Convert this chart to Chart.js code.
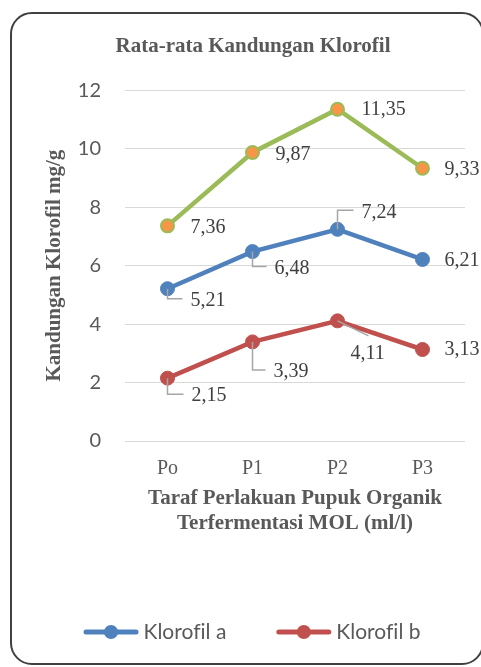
<!DOCTYPE html>
<html>
<head>
<meta charset="utf-8">
<script src="https://cdn.jsdelivr.net/npm/chart.js@4.4.0/dist/chart.umd.min.js"></script>
<style>
    body { margin: 0; background: #fff; }
    #wadah { position: relative; width: 481px; height: 667px; overflow: hidden; }
    #bingkai {
        position: absolute; left: 10px; top: 12px; width: 474px; height: 653px;
        box-sizing: border-box; border: 2.5px solid #404040; border-radius: 22px;
        pointer-events: none;
    }
</style>
</head>
<body>
<div id="wadah">
    <canvas id="grafik-klorofil" width="481" height="667"></canvas>
    <div id="bingkai"></div>
</div>
<script>
const perlakuan = ["Po", "P1", "P2", "P3"];
const klorofilA = [5.21, 6.48, 7.24, 6.21];
const klorofilB = [2.15, 3.39, 4.11, 3.13];
const klorofilTotal = [7.36, 9.87, 11.35, 9.33];
const tickY = [0, 2, 4, 6, 8, 10, 12];

const SERIF = "Liberation Serif";
const SANS = "Lato";
const ABU = "#595959";

// posisi label data relatif terhadap titik (per seri, per titik)
const posisiLabel = [
    [
        { dx: 23, dy: 12, garis: "siku" },
        { dx: 22, dy: 17, garis: "siku" },
        { dx: 24, dy: -17, garis: "siku" },
        { dx: 22, dy: 1 },
    ],
    [
        { dx: 24, dy: 18, garis: "siku" },
        { dx: 21, dy: 30, garis: "siku" },
        { dx: 13, dy: 33, garis: "miring", lx: 31, ly: 15 },
        { dx: 22, dy: 0 },
    ],
    [
        { dx: 23, dy: 2 },
        { dx: 23, dy: 2 },
        { dx: 24, dy: 1 },
        { dx: 22, dy: 1 },
    ],
];

const formatAngka = (nilai) => nilai.toFixed(2).replace(".", ",");

const pluginLabelData = {
    id: "labelData",
    afterDatasetsDraw(chart) {
        const ctx = chart.ctx;
        ctx.save();
        chart.data.datasets.forEach((dataset, i) => {
            const meta = chart.getDatasetMeta(i);
            meta.data.forEach((titik, j) => {
                const pos = posisiLabel[i][j];
                const x = titik.x;
                const y = titik.y;

                ctx.strokeStyle = "#A6A6A6";
                ctx.lineWidth = 1.5;
                if (pos.garis === "siku") {
                    const yy = y + pos.dy - 2;
                    ctx.beginPath();
                    ctx.moveTo(x, y);
                    ctx.lineTo(x, yy);
                    ctx.lineTo(x + pos.dx - 8, yy);
                    ctx.stroke();
                } else if (pos.garis === "miring") {
                    ctx.beginPath();
                    ctx.moveTo(x, y);
                    ctx.lineTo(x + pos.lx, y + pos.ly);
                    ctx.stroke();
                }

                ctx.fillStyle = "#404040";
                ctx.font = "20px '" + SERIF + "'";
                ctx.textAlign = "left";
                ctx.textBaseline = "middle";
                ctx.fillText(formatAngka(dataset.data[j]), x + pos.dx, y + pos.dy);
            });
        });
        ctx.restore();
    },
};

const seriLegenda = [0, 1];

const pluginLegenda = {
    id: "legendaBawah",
    afterDraw(chart) {
        const ctx = chart.ctx;
        ctx.save();
        ctx.font = "21px '" + SANS + "'";
        ctx.textRendering = "optimizeSpeed";
        const panjangGaris = 55;
        const jarakTeks = 5;
        const jarakItem = 50;

        const item = seriLegenda.map((idx) => {
            const ds = chart.data.datasets[idx];
            return { ds, lebar: panjangGaris + jarakTeks + ctx.measureText(ds.label).width };
        });
        const total = item.reduce((s, it) => s + it.lebar, 0) + jarakItem * (item.length - 1);
        let x = 252 - total / 2;
        const y = 632;

        item.forEach((it) => {
            ctx.strokeStyle = it.ds.borderColor;
            ctx.lineWidth = 5;
            ctx.lineCap = "round";
            ctx.beginPath();
            ctx.moveTo(x + 2.5, y);
            ctx.lineTo(x + panjangGaris - 2.5, y);
            ctx.stroke();

            ctx.fillStyle = it.ds.pointBackgroundColor;
            ctx.beginPath();
            ctx.arc(x + panjangGaris / 2, y, 7, 0, Math.PI * 2);
            ctx.fill();

            ctx.fillStyle = ABU;
            ctx.textAlign = "left";
            ctx.textBaseline = "middle";
            ctx.fillText(it.ds.label, x + panjangGaris + jarakTeks, y);
            x += it.lebar + jarakItem;
        });
        ctx.restore();
    },
};

const ctx = document.getElementById("grafik-klorofil").getContext("2d");

new Chart(ctx, {
    type: "line",
    data: {
        labels: perlakuan,
        datasets: [
            {
                label: "Klorofil a",
                data: klorofilA,
                borderColor: "#4F81BD",
                backgroundColor: "#4F81BD",
                pointBackgroundColor: "#4F81BD",
                pointBorderColor: "#4F81BD",
                borderWidth: 4.5,
                pointRadius: 7,
                pointBorderWidth: 1,
                fill: false,
                tension: 0,
            },
            {
                label: "Klorofil b",
                data: klorofilB,
                borderColor: "#C0504D",
                backgroundColor: "#C0504D",
                pointBackgroundColor: "#C0504D",
                pointBorderColor: "#C0504D",
                borderWidth: 4.5,
                pointRadius: 7,
                pointBorderWidth: 1,
                fill: false,
                tension: 0,
            },
            {
                label: "Klorofil Total",
                data: klorofilTotal,
                borderColor: "#9BBB59",
                backgroundColor: "#F79646",
                pointBackgroundColor: "#F79646",
                pointBorderColor: "#9BBB59",
                borderWidth: 4.5,
                pointRadius: 6.5,
                pointBorderWidth: 2,
                fill: false,
                tension: 0,
            },
        ],
    },
    options: {
        responsive: false,
        animation: false,
        layout: {
            padding: { left: 41, right: 16, top: 0, bottom: 131 },
        },
        plugins: {
            legend: { display: false },
            tooltip: { enabled: false },
            title: {
                display: true,
                text: "Rata-rata Kandungan Klorofil",
                color: ABU,
                font: { family: SERIF, size: 21, weight: "bold" },
                padding: { top: 34, bottom: 31 },
            },
        },
        scales: {
            x: {
                offset: true,
                afterFit: (scale) => {
                    scale.height = 95;
                },
                grid: { display: false },
                border: { display: false },
                ticks: {
                    padding: 8,
                    color: ABU,
                    font: { family: SERIF, size: 20 },
                },
                title: {
                    display: true,
                    text: ["Taraf Perlakuan Pupuk Organik", "Terfermentasi MOL (ml/l)"],
                    color: ABU,
                    font: { family: SERIF, size: 21, weight: "bold" },
                    padding: { top: 0, bottom: 0 },
                },
            },
            y: {
                min: tickY[0],
                max: tickY[tickY.length - 1],
                afterFit: (scale) => {
                    scale.width = 84;
                },
                grid: { color: "#D9D9D9", lineWidth: 1, drawTicks: false },
                border: { display: false },
                ticks: {
                    stepSize: tickY[1] - tickY[0],
                    padding: 24,
                    color: ABU,
                    font: { family: SANS, size: 20 },
                },
                title: {
                    display: true,
                    text: "Kandungan Klorofil mg/g",
                    color: ABU,
                    font: { family: SERIF, size: 21, weight: "bold" },
                    padding: { top: 1.4, bottom: 0 },
                },
            },
        },
    },
    plugins: [pluginLabelData, pluginLegenda],
});
</script>
</body>
</html>
